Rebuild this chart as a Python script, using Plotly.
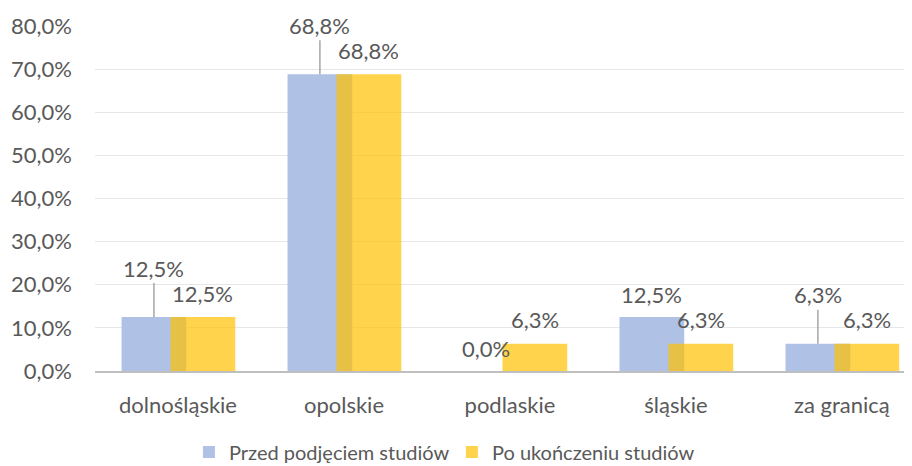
import plotly.graph_objects as go

categories = ["dolnośląskie", "opolskie", "podlaskie", "śląskie", "za granicą"]
przed = [12.5, 68.8, 0.0, 12.5, 6.3]
po = [12.5, 68.8, 6.3, 6.3, 6.3]
series_names = ["Przed podjęciem studiów", "Po ukończeniu studiów"]
y_ticks = [0, 10, 20, 30, 40, 50, 60, 70, 80]
y_tick_labels = ["0,0%", "10,0%", "20,0%", "30,0%", "40,0%", "50,0%", "60,0%", "70,0%", "80,0%"]

FONT = "Lato"
FS = 22
TXT = "#595959"
BLUE = "rgb(175,194,230)"
YELLOW = "rgba(255,192,0,0.70)"

BAR_W = 0.39
OFF_BLUE = -0.34
OFF_YEL = -0.045

x_idx = list(range(len(categories)))

fig = go.Figure()
fig.add_trace(go.Bar(
    x=x_idx, y=przed, name=series_names[0],
    marker=dict(color=BLUE, line=dict(width=0)),
    width=BAR_W, offset=OFF_BLUE, hoverinfo="skip",
))
fig.add_trace(go.Bar(
    x=x_idx, y=po, name=series_names[1],
    marker=dict(color=YELLOW, line=dict(width=0)),
    width=BAR_W, offset=OFF_YEL, hoverinfo="skip",
))


def fmt(v):
    return f"{v:.1f}".replace(".", ",") + "%"


annotations = []
for i, (a, b) in enumerate(zip(przed, po)):
    xb = i + OFF_BLUE + BAR_W / 2
    xy = i + OFF_YEL + BAR_W / 2
    if a == b:
        annotations.append(dict(
            x=xb, y=a, xref="x", yref="y", text=fmt(a),
            showarrow=True, arrowhead=0, arrowwidth=1.5, arrowcolor="#A6A6A6",
            ax=0, ay=-49, standoff=0,
            font=dict(family=FONT, size=FS, color=TXT),
        ))
    else:
        annotations.append(dict(
            x=xb, y=a, xref="x", yref="y", text=fmt(a),
            showarrow=False, yshift=23, yanchor="middle",
            font=dict(family=FONT, size=FS, color=TXT),
        ))
    annotations.append(dict(
        x=xy, y=b, xref="x", yref="y", text=fmt(b),
        showarrow=False, yshift=24, yanchor="middle",
        font=dict(family=FONT, size=FS, color=TXT),
    ))

# the page body adds an 8px offset, so margins are compensated for it
fig.update_layout(
    width=912, height=466,
    margin=dict(l=87, r=10, t=18, b=103, autoexpand=False),
    paper_bgcolor="white", plot_bgcolor="white",
    barmode="overlay",
    font=dict(family=FONT, size=FS, color=TXT),
    showlegend=True,
    legend=dict(
        orientation="h", xref="container", x=0.1984, xanchor="left",
        yref="container", y=0.0472, yanchor="middle",
        font=dict(family=FONT, size=20, color=TXT),
        itemwidth=30, entrywidth=218, traceorder="normal",
    ),
    annotations=annotations,
)
fig.update_xaxes(
    range=[-0.5, 4.41], automargin=False,
    tickmode="array", tickvals=x_idx, ticktext=categories,
    showline=True, linecolor="#BFBFBF", linewidth=2,
    showgrid=False, zeroline=False, ticks="",
    ticklabelstandoff=14,
    tickfont=dict(family=FONT, size=FS, color=TXT),
)
fig.update_yaxes(
    range=[0, 80], automargin=False,
    tickmode="array", tickvals=y_ticks, ticktext=y_tick_labels,
    showgrid=True, gridcolor="#E6E6E6", gridwidth=1,
    zeroline=False, showline=False, ticks="",
    ticklabelstandoff=22,
    tickfont=dict(family=FONT, size=FS, color=TXT),
)

fig.write_html("out.html")
